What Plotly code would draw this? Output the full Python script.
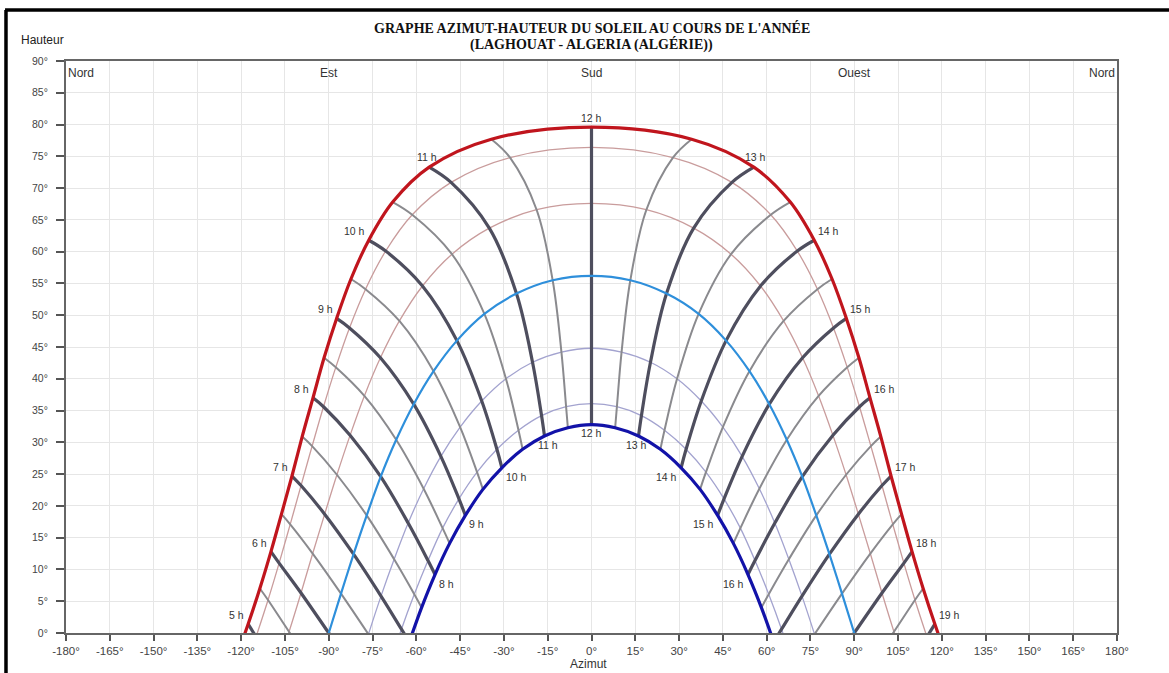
import plotly.graph_objects as go

# ---------------- data ----------------
HOURS = [4.5, 5.0, 5.5, 6.0, 6.5, 7.0, 7.5, 8.0, 8.5, 9.0, 9.5, 10.0, 10.5, 11.0, 11.5, 12.0,
         12.5, 13.0, 13.5, 14.0, 14.5, 15.0, 15.5, 16.0, 16.5, 17.0, 17.5, 18.0, 18.5, 19.0, 19.5]

# azimuth (deg, 0 = Sud, negative = Est) and altitude (deg) at each half hour
AZ_JUN = [-121.8, -117.6, -113.6, -109.8, -106.2, -102.6, -99.1, -95.4, -91.6, -87.3, -82.4, -76.3, -68.1, -55.6, -34.3, 0.0,
          34.3, 55.6, 68.1, 76.3, 82.4, 87.3, 91.6, 95.4, 99.1, 102.6, 106.2, 109.8, 113.6, 117.6, 121.8]
ALT_JUN = [-4.0, 1.4, 7.0, 12.8, 18.7, 24.7, 30.9, 37.0, 43.3, 49.5, 55.7, 61.8, 67.8, 73.3, 77.7, 79.6,
           77.7, 73.3, 67.8, 61.8, 55.7, 49.5, 43.3, 37.0, 30.9, 24.7, 18.7, 12.8, 7.0, 1.4, -4.0]

AZ_MAYJUL = [None, -114.9, -110.8, -107.0, -103.2, -99.5, -95.7, -91.8, -87.6, -82.9, -77.4, -70.5, -61.4, -48.1, -27.9, 0.0,
             27.9, 48.1, 61.4, 70.5, 77.4, 82.9, 87.6, 91.8, 95.7, 99.5, 103.2, 107.0, 110.8, 114.9, None]
ALT_MAYJUL = [None, -0.6, 5.2, 11.0, 17.1, 23.2, 29.4, 35.6, 41.8, 48.0, 54.1, 60.1, 65.8, 70.9, 74.8, 76.4,
              74.8, 70.9, 65.8, 60.1, 54.1, 48.0, 41.8, 35.6, 29.4, 23.2, 17.1, 11.0, 5.2, -0.6, None]

AZ_APRAUG = [None, -107.9, -103.6, -99.5, -95.5, -91.4, -87.2, -82.7, -77.8, -72.3, -65.8, -57.9, -47.8, -35.0, -18.8, 0.0,
             18.8, 35.0, 47.8, 57.9, 65.8, 72.3, 77.8, 82.7, 87.2, 91.4, 95.5, 99.5, 103.6, 107.9, None]
ALT_APRAUG = [None, -5.8, 0.2, 6.3, 12.5, 18.7, 24.9, 31.1, 37.3, 43.3, 49.1, 54.6, 59.6, 63.7, 66.6, 67.6,
              66.6, 63.7, 59.6, 54.6, 49.1, 43.3, 37.3, 31.1, 24.9, 18.7, 12.5, 6.3, 0.2, -5.8, None]

AZ_EQX = [None, None, -94.2, -90.0, -85.8, -81.5, -77.0, -72.2, -66.9, -60.9, -54.1, -46.1, -36.7, -25.7, -13.3, 0.0,
          13.3, 25.7, 36.7, 46.1, 54.1, 60.9, 66.9, 72.2, 77.0, 81.5, 85.8, 90.0, 94.2, None, None]
ALT_EQX = [None, None, -6.2, 0.0, 6.2, 12.4, 18.5, 24.6, 30.4, 36.0, 41.2, 46.0, 50.2, 53.4, 55.5, 56.2,
           55.5, 53.4, 50.2, 46.0, 41.2, 36.0, 30.4, 24.6, 18.5, 12.4, 6.2, 0.0, -6.2, None, None]

AZ_FEBOCT = [None, None, None, -80.5, -76.4, -72.1, -67.6, -62.8, -57.5, -51.6, -45.0, -37.6, -29.3, -20.2, -10.3, 0.0,
             10.3, 20.2, 29.3, 37.6, 45.0, 51.6, 57.5, 62.8, 67.6, 72.1, 76.4, 80.5, None, None, None]
ALT_FEBOCT = [None, None, None, -6.3, -0.2, 5.8, 11.6, 17.3, 22.7, 27.8, 32.4, 36.5, 40.0, 42.6, 44.2, 44.8,
              44.2, 42.6, 40.0, 36.5, 32.4, 27.8, 22.7, 17.3, 11.6, 5.8, -0.2, -6.3, None, None, None]

AZ_JANNOV = [None, None, None, None, -69.2, -65.1, -60.7, -56.0, -51.0, -45.4, -39.2, -32.4, -25.0, -17.1, -8.7, 0.0,
             8.7, 17.1, 25.0, 32.4, 39.2, 45.4, 51.0, 56.0, 60.7, 65.1, 69.2, None, None, None, None]
ALT_JANNOV = [None, None, None, None, -5.2, 0.6, 6.1, 11.4, 16.5, 21.1, 25.3, 28.9, 31.9, 34.2, 35.6, 36.1,
              35.6, 34.2, 31.9, 28.9, 25.3, 21.1, 16.5, 11.4, 6.1, 0.6, -5.2, None, None, None, None]

AZ_DEC = [None, None, None, None, None, -62.4, -58.2, -53.6, -48.6, -43.2, -37.2, -30.7, -23.6, -16.1, -8.1, 0.0,
          8.1, 16.1, 23.6, 30.7, 37.2, 43.2, 48.6, 53.6, 58.2, 62.4, None, None, None, None, None]
ALT_DEC = [None, None, None, None, None, -1.4, 4.0, 9.2, 14.1, 18.5, 22.6, 26.0, 28.9, 31.0, 32.3, 32.8,
           32.3, 31.0, 28.9, 26.0, 22.6, 18.5, 14.1, 9.2, 4.0, -1.4, None, None, None, None, None]

X_TICKS = [-180, -165, -150, -135, -120, -105, -90, -75, -60, -45, -30, -15, 0,
           15, 30, 45, 60, 75, 90, 105, 120, 135, 150, 165, 180]
Y_TICKS = [0, 5, 10, 15, 20, 25, 30, 35, 40, 45, 50, 55, 60, 65, 70, 75, 80, 85, 90]
DIRECTIONS = [(-180, "Nord"), (-90, "Est"), (0, "Sud"), (90, "Ouest"), (180, "Nord")]
TITLE_1 = "GRAPHE AZIMUT-HAUTEUR DU SOLEIL AU COURS DE L'ANNÉE"
TITLE_2 = "(LAGHOUAT - ALGERIA (ALGÉRIE))"

# ---------------- figure ----------------
SANS = "Liberation Sans, Arial, sans-serif"
SERIF = "Liberation Serif, Times New Roman, serif"

curves = [  # (az, alt, colour, width)
    (AZ_JUN, ALT_JUN, "#c0151d", 3.2),
    (AZ_MAYJUL, ALT_MAYJUL, "#c99c9c", 1.3),
    (AZ_APRAUG, ALT_APRAUG, "#c99c9c", 1.3),
    (AZ_EQX, ALT_EQX, "#2e8fdb", 2.2),
    (AZ_FEBOCT, ALT_FEBOCT, "#a3a3cf", 1.3),
    (AZ_JANNOV, ALT_JANNOV, "#a3a3cf", 1.3),
    (AZ_DEC, ALT_DEC, "#1212a8", 3.2),
]

fig = go.Figure()

def day_trace(az, alt, color, width):
    xs = [a for a in az if a is not None]
    ys = [h for h in alt if h is not None]
    return go.Scatter(x=xs, y=ys, mode="lines", hoverinfo="skip", showlegend=False,
                      line=dict(color=color, width=width, shape="spline"))

# thin day curves first
for az, alt, col, w in curves:
    if w < 2:
        fig.add_trace(day_trace(az, alt, col, w))

# hour lines (built from the day-curve crossings)
for i, t in enumerate(HOURS):
    xs, ys = [], []
    for az, alt, _, _ in curves:
        if az[i] is None:
            if xs:
                break
            continue
        xs.append(az[i])
        ys.append(alt[i])
        if alt[i] < 0:
            break
    if len(xs) < 2 or max(ys) <= 0:
        continue
    full = float(t).is_integer()
    fig.add_trace(go.Scatter(x=xs, y=ys, mode="lines", hoverinfo="skip", showlegend=False,
                             line=dict(color="#4e4e5e" if full else "#8a8a8e",
                                       width=3.2 if full else 2.0, shape="spline")))

# thick day curves on top
for az, alt, col, w in curves:
    if w >= 2:
        fig.add_trace(day_trace(az, alt, col, w))

annotations = []
lab_font = dict(family=SANS, size=10.5, color="#333333")
# summer labels
for i, t in enumerate(HOURS):
    if not float(t).is_integer() or ALT_JUN[i] <= 0:
        continue
    ti = int(t)
    if ti < 11:
        xa, xs_, ys_ = "right", -2, 1
    elif ti == 11:
        xa, xs_, ys_ = "center", -2, 2
    elif ti == 12:
        xa, xs_, ys_ = "center", 0, 1
    elif ti == 13:
        xa, xs_, ys_ = "center", 2, 2
    else:
        xa, xs_, ys_ = "left", 2, 1
    annotations.append(dict(x=AZ_JUN[i], y=ALT_JUN[i], text=f"{ti} h", showarrow=False,
                            xanchor=xa, yanchor="bottom", xshift=xs_, yshift=ys_, font=lab_font))
# winter labels
for i, t in enumerate(HOURS):
    if not float(t).is_integer() or ALT_DEC[i] is None or ALT_DEC[i] <= 0:
        continue
    ti = int(t)
    if ti < 11:
        xa, xs_, ys_ = "left", 2, -1
    elif ti == 11:
        xa, xs_, ys_ = "center", 3, -1
    elif ti == 12:
        xa, xs_, ys_ = "center", 0, 0
    elif ti == 13:
        xa, xs_, ys_ = "center", -2, -1
    else:
        xa, xs_, ys_ = "right", -2, -1
    annotations.append(dict(x=AZ_DEC[i], y=ALT_DEC[i], text=f"{ti} h", showarrow=False,
                            xanchor=xa, yanchor="top", xshift=xs_, yshift=ys_, font=lab_font))

# direction labels along the top
for az, name in DIRECTIONS:
    xa = "left" if az == -180 else ("right" if az == 180 else "center")
    annotations.append(dict(x=az, y=90, text=name, showarrow=False, xanchor=xa, yanchor="top",
                            xshift=0, yshift=-3,
                            font=dict(family=SANS, size=12, color="#333333")))

# title
annotations.append(dict(xref="paper", yref="paper", x=0.5, y=1.0, yshift=17, text="<b>" + TITLE_2 + "</b>",
                        showarrow=False, xanchor="center", yanchor="middle",
                        font=dict(family=SERIF, size=14, color="#111111")))
annotations.append(dict(xref="paper", yref="paper", x=0.5, y=1.0, yshift=33, text="<b>" + TITLE_1 + "</b>",
                        showarrow=False, xanchor="center", yanchor="middle",
                        font=dict(family=SERIF, size=14, color="#111111")))
# axis titles
annotations.append(dict(xref="paper", yref="paper", x=0, y=1.0, xshift=-47, yshift=21, text="Hauteur",
                        showarrow=False, xanchor="left", yanchor="middle",
                        font=dict(family=SANS, size=12, color="#222222")))
annotations.append(dict(xref="paper", yref="paper", x=0.5, y=0, xshift=-3, yshift=-31, text="Azimut",
                        showarrow=False, xanchor="center", yanchor="middle",
                        font=dict(family=SANS, size=12, color="#333333")))

fig.update_layout(
    width=1169, height=673,
    margin=dict(l=66, r=52, t=61, b=40),
    paper_bgcolor="white", plot_bgcolor="white",
    showlegend=False,
    annotations=annotations,
    shapes=[
        dict(type="line", xref="paper", yref="paper", x0=-0.058, x1=1.06, y0=1.0892, y1=1.0892,
             line=dict(color="black", width=3.5)),
        dict(type="line", xref="paper", yref="paper", x0=-0.0571, x1=-0.0571, y0=1.0892, y1=-0.08,
             line=dict(color="black", width=3.5)),
    ],
    xaxis=dict(range=[-180, 180], tickvals=X_TICKS, ticktext=[f"{v}°" for v in X_TICKS],
               showgrid=True, gridcolor="#e6e6e6", gridwidth=1, zeroline=False,
               showline=True, linecolor="#666666", linewidth=2, mirror=True,
               ticks="outside", ticklen=6, tickwidth=2, tickcolor="#555555",
               tickfont=dict(family=SANS, size=11.5, color="#444444")),
    yaxis=dict(range=[0, 90], tickvals=Y_TICKS, ticktext=[f"{v}°" for v in Y_TICKS],
               showgrid=True, gridcolor="#e6e6e6", gridwidth=1, zeroline=False,
               showline=True, linecolor="#666666", linewidth=2, mirror=True,
               ticks="outside", ticklen=8, tickwidth=2, tickcolor="#555555",
               ticklabelstandoff=6,
               tickfont=dict(family=SANS, size=10.5, color="#444444")),
)

fig.write_html("out.html", config={"displayModeBar": False},
               post_script="document.body.style.margin='0px';document.body.style.overflow='hidden';")
